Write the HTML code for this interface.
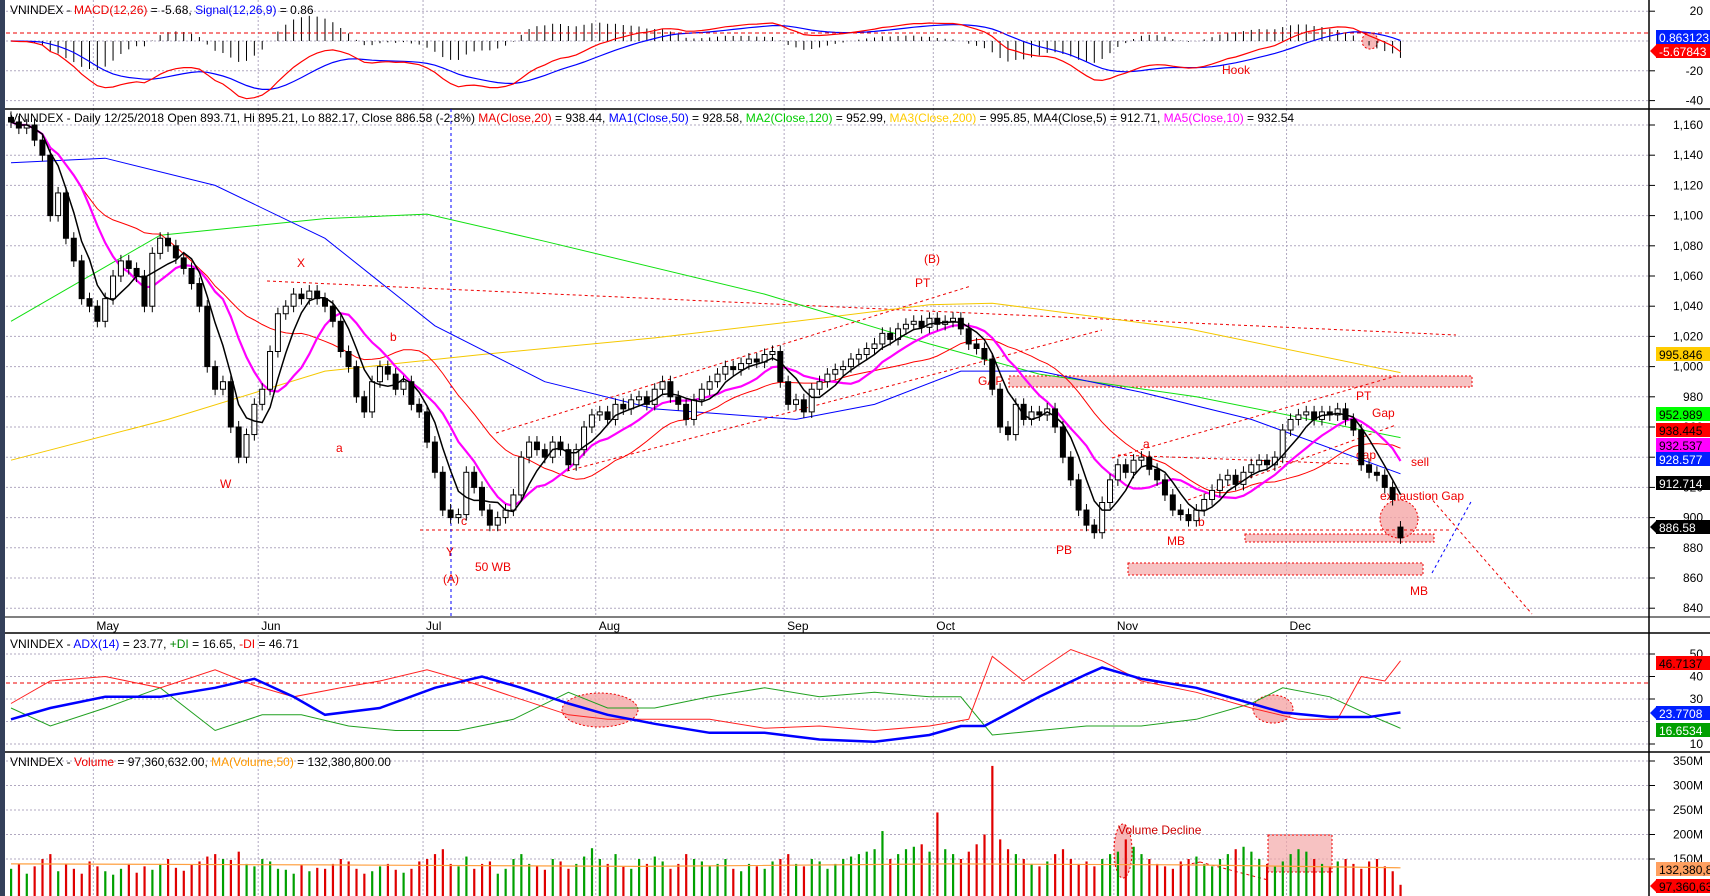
<!DOCTYPE html>
<html><head><meta charset="utf-8"><style>
html,body{margin:0;padding:0;background:#fff;}
svg{display:block;font-family:"Liberation Sans",Arial,sans-serif;}
</style></head><body>
<svg id="c" width="1710" height="896" viewBox="0 0 1710 896" xmlns="http://www.w3.org/2000/svg">
<rect x="0" y="0" width="1710" height="896" fill="#fff"/>
<rect x="0" y="0" width="5" height="896" fill="#34405a"/>
<g id="grid"></g>
<g id="ann"></g>
<g id="marks"></g>
<g id="axis"></g>
<g id="titles">
<text x="10" y="14" font-size="12">VNINDEX - <tspan fill="#e00">MACD(12,26)</tspan> = -5.68, <tspan fill="#00f">Signal(12,26,9)</tspan> = 0.86</text>
<text x="10" y="122" font-size="12">VNINDEX - Daily 12/25/2018 Open 893.71, Hi 895.21, Lo 882.17, Close 886.58 (-2.8%) <tspan fill="#e00">MA(Close,20)</tspan> = 938.44, <tspan fill="#00f">MA1(Close,50)</tspan> = 928.58, <tspan fill="#0c0">MA2(Close,120)</tspan> = 952.99, <tspan fill="#fc0">MA3(Close,200)</tspan> = 995.85, MA4(Close,5) = 912.71, <tspan fill="#f0f">MA5(Close,10)</tspan> = 932.54</text>
<text x="10" y="648" font-size="12">VNINDEX - <tspan fill="#00f">ADX(14)</tspan> = 23.77, <tspan fill="#080">+DI</tspan> = 16.65, <tspan fill="#e00">-DI</tspan> = 46.71</text>
<text x="10" y="766" font-size="12">VNINDEX - <tspan fill="#e00">Volume</tspan> = 97,360,632.00, <tspan fill="#f90">MA(Volume,50)</tspan> = 132,380,800.00</text>
</g>
</svg>
<script>
const closes=[1162,1158,1160,1150,1140,1100,1115,1085,1070,1045,1040,1030,1045,1060,1070,1065,1060,1040,1075,1085,1080,1072,1065,1055,1040,1000,985,990,960,940,955,975,985,1010,1035,1040,1048,1045,1050,1045,1040,1030,1010,1000,980,970,990,1000,995,985,990,975,970,950,930,905,900,902,930,920,905,895,900,905,915,940,950,945,940,950,945,935,945,960,968,970,965,975,972,978,980,975,985,990,980,975,965,978,985,990,995,1000,998,1002,1005,1003,1008,1010,990,975,978,970,985,990,995,998,1000,1005,1008,1012,1015,1022,1018,1025,1028,1030,1026,1032,1028,1030,1032,1025,1015,1012,1005,985,960,955,975,965,970,968,972,960,940,925,905,895,890,910,925,935,930,938,940,932,925,915,905,902,898,905,912,918,925,928,922,930,935,938,935,940,958,965,968,970,965,970,968,972,965,958,935,930,928,920,912,886.58];
const volumes=[130,140,120,135,150,160,125,140,130,120,145,135,125,118,130,140,122,135,128,140,150,132,126,138,145,155,160,150,148,165,140,135,150,145,130,128,120,138,125,132,130,140,150,145,130,120,125,135,140,128,122,130,145,150,160,170,140,135,155,130,140,145,120,130,150,160,140,135,128,150,145,130,140,155,172,150,140,160,135,130,150,140,155,145,130,140,160,150,145,135,140,150,130,125,140,135,130,145,150,160,140,135,150,145,130,140,150,155,160,165,170,207,150,160,170,175,180,165,245,170,160,150,165,180,200,340,190,170,160,150,140,135,145,160,170,150,140,145,135,150,160,165,190,175,160,150,140,135,130,145,150,155,140,135,150,160,170,175,165,150,140,135,145,160,170,165,150,140,135,145,150,140,130,145,150,135,125,97.36];
const ma50Idx=[0,12,26,40,54,68,82,100,110,121,131,144,158,177];
const ma50Val=[1135,1138,1120,1085,1027,990,972,965,975,997,997,983,965,929];
const ma120Idx=[0,19,40,53,68,96,117,131,151,177];
const ma120Val=[1030,1087,1098,1101,1083,1048,1015,995,980,953];
const ma200Idx=[0,20,40,60,82,100,117,125,150,177];
const ma200Val=[938,965,997,1008,1019,1030,1041,1042,1025,996];
const adxIdx=[0,5,12,19,26,31,36,40,47,54,60,65,71,76,82,89,96,103,110,117,121,124,131,137,139,144,151,158,162,168,173,177];
const adxVal=[21,26,31,31,35,39,31,23,26,35,40,35,28,23,19,15,15,12,11,14,18,18,31,41,44,39,35,28,24,22,22,24];
const pdiIdx=[0,5,12,19,26,32,37,43,49,57,64,71,76,82,89,96,103,110,117,121,125,131,137,144,151,158,162,168,173,177];
const pdiVal=[26,18,26,35,16,23,23,18,16,16,21,33,26,26,31,35,31,33,31,31,14,16,18,18,21,28,35,31,23,17];
const mdiIdx=[0,5,12,19,26,31,36,42,47,53,58,64,71,76,82,89,96,103,110,117,122,125,129,135,139,144,151,158,164,169,172,175,177];
const mdiVal=[28,38,40,35,43,36,31,35,38,43,38,31,23,21,21,21,17,18,16,18,21,49,38,52,47,38,33,26,21,21,40,38,47];
const volMaIdx=[0,40,80,120,150,177];
const volMaVal=[140,138,135,140,138,132];
const months=["May","Jun","Jul","Aug","Sep","Oct","Nov","Dec"];
const monthIdx=[11,32,53,75,99,118,141,163];
const priceTicks=[1160,1140,1120,1100,1080,1060,1040,1020,1000,980,960,940,920,900,880,860,840];
const macdTicks=[20,-20,-40];
const adxTicks=[50,40,30,20,10];
const volTicks=[350,300,250,200,150];

const NS="http://www.w3.org/2000/svg";
const xOf=i=>11+i*7.85;
const pY=p=>125+(1160-p)*1.51;
const mY=v=>41-v*1.49;
const aY=v=>744-(v-10)*2.25;
const vY=v=>Math.min(896,859-(v-150)*0.49);
function el(tag,attrs,parent){const e=document.createElementNS(NS,tag);for(const k in attrs)e.setAttribute(k,attrs[k]);parent.appendChild(e);return e;}
const G=document.getElementById('grid'),M=document.getElementById('marks'),A=document.getElementById('axis'),N=document.getElementById('ann');

function hgrid(y,x2){const l=el('line',{x1:6,x2:x2||1649,y1:y,y2:y,stroke:'#b0a8c0','stroke-dasharray':'2,2','stroke-width':1},G);}
priceTicks.forEach(t=>hgrid(pY(t)));
macdTicks.concat([0]).forEach(t=>hgrid(mY(t)));
adxTicks.forEach(t=>hgrid(aY(t)));
volTicks.forEach(t=>hgrid(vY(t)));
monthIdx.forEach((mi,k)=>{
  const x=xOf(mi)-4;
  [[0,109],[109,617],[635,752],[753,896]].forEach(r=>{const l=el('line',{x1:x,x2:x,y1:r[0],y2:r[1],stroke:'#b0a8c0','stroke-dasharray':'2,2'},G);});
  const t=el('text',{x:x+3,y:630,'font-size':12},G);t.textContent=months[k];
  
});
[[109,1.5],[617,1],[633,1.5],[752,1.5]].forEach(s=>{const l=el('line',{x1:5,x2:1710,y1:s[0],y2:s[0],stroke:'#000','stroke-width':s[1]},G);});

function sma(n){return closes.map((c,i)=>{const s=Math.max(0,i-n+1);let t=0;for(let j=s;j<=i;j++)t+=closes[j];return t/(i-s+1);});}
function poly(vals,yf,color,w,name,idx){
  const pts=vals.map((v,k)=>xOf(idx?idx[k]:k).toFixed(1)+','+yf(v).toFixed(1)).join(' ');
  const p=el('polyline',{points:pts,fill:'none',stroke:color,'stroke-width':w},M);
  return p;
}
poly(ma200Val,pY,'#f5c800',1,'ma200-line',ma200Idx);
poly(ma120Val,pY,'#10e010',1,'ma120-line',ma120Idx);
poly(ma50Val,pY,'#0000ff',1,'ma50-line',ma50Idx);
poly(sma(20),pY,'#ff0000',1,'ma20-line');
poly(sma(10),pY,'#ff00ff',2.2,'ma10-line');
closes.forEach((c,i)=>{
  const o=i===closes.length-1?893.71:(i?closes[i-1]:c+3);
  const hi=Math.max(o,c)+4,lo=Math.min(o,c)-4,x=xOf(i);
  const w=el('line',{x1:x,x2:x,y1:pY(hi),y2:pY(lo),stroke:'#000'},M);
  
  const y1=pY(Math.max(o,c)),h=Math.max(1,pY(Math.min(o,c))-y1);
  const b=el('rect',{x:x-2.5,y:y1,width:5,height:h,fill:c>=o?'#fff':'#000',stroke:'#000','stroke-width':1},M);
  
});
poly(sma(5),pY,'#000',1.5,'ma5-line');

function ema(arr,n){const k=2/(n+1);let e=arr[0];return arr.map(v=>e=v*k+e*(1-k));}
const e12=ema(closes,12),e26=ema(closes,26);
const macd=e12.map((v,i)=>v-e26[i]);
const sig=ema(macd,9);
macd.forEach((v,i)=>{const h=(v-sig[i])*1.5;const l=el('line',{x1:xOf(i),x2:xOf(i),y1:mY(0),y2:mY(h),stroke:'#000'},M);});
poly(sig,mY,'#0000ff',1.2,'signal-line');
poly(macd,mY,'#ff0000',1.2,'macd-line');
{const l=el('line',{x1:6,x2:1649,y1:33,y2:33,stroke:'#e00','stroke-dasharray':'4,3'},M);}

{const l=el('line',{x1:6,x2:1649,y1:683,y2:683,stroke:'#e00','stroke-dasharray':'4,3'},M);}
poly(pdiVal,aY,'#20a020',1,'plus-di-line',pdiIdx);
poly(mdiVal,aY,'#ff2020',1,'minus-di-line',mdiIdx);
poly(adxVal,aY,'#0000ff',2.5,'adx-line',adxIdx);

volumes.forEach((v,i)=>{const up=i===0||closes[i]>=closes[i-1];const x=xOf(i);
  const r=el('rect',{x:x-1,y:vY(v),width:2.2,height:896-vY(v),fill:up?'#00a000':'#e00000'},M);
  });
poly(volMaVal,vY,'#ffa040',1.2,'volume-ma-line',volMaIdx);

{const l=el('line',{x1:1649,x2:1649,y1:0,y2:896,stroke:'#000','stroke-width':1.5},A);}
function tick(y,label){const l=el('line',{x1:1649,x2:1655,y1:y,y2:y,stroke:'#000'},A);
  const t=el('text',{x:1703,y:y+4,'font-size':12,'text-anchor':'end'},A);t.textContent=label;}
priceTicks.forEach(t=>tick(pY(t),t.toLocaleString('en-US')));
macdTicks.forEach(t=>tick(mY(t),String(t)));
adxTicks.slice(0,1).concat([40,30,10]).forEach(t=>tick(aY(t),String(t)));
volTicks.forEach(t=>tick(vY(t),t+'M'));
function badge(y,txt,bg,fg,arrow){
  const g=el('g',{},A);
  if(arrow)el('polygon',{points:`1650,${y} 1657,${y-7} 1657,${y+7}`,fill:bg},g);
  el('rect',{x:1656,y:y-7,width:54,height:14,fill:bg},g);
  const t=el('text',{x:1659,y:y+5,'font-size':12,fill:fg},g);t.textContent=txt;
}
badge(37,'0.863123','#0020ff','#fff');badge(51,'-5.67843','#ff0000','#fff',true);
badge(354,'995.846','#ffcc00','#000');badge(414,'952.989','#00ff00','#000');badge(430,'938.445','#ff0000','#000');
badge(445,'932.537','#ff00ff','#000');badge(459,'928.577','#0020ff','#fff');badge(483,'912.714','#000','#fff');
badge(527,'886.58','#000','#fff',true);
badge(663,'46.7137','#ff0000','#000');badge(713,'23.7708','#0020ff','#fff',true);badge(730,'16.6534','#00a000','#fff');
badge(869,'132,380,8','#ffa060','#000');badge(886,'97,360,63','#ff0000','#000',true);

function dline(x1,y1,x2,y2,c,name){const l=el('line',{x1,y1,x2,y2,stroke:c||'#e00','stroke-dasharray':'3,3'},N);}
function box(x,y,w,h,name){const r=el('rect',{x,y,width:w,height:h,fill:'#f4a8a8','fill-opacity':0.7,stroke:'#e00','stroke-dasharray':'2,2'},N);}
function ell(cx,cy,rx,ry,name){const e=el('ellipse',{cx,cy,rx,ry,fill:'#f4a0a0','fill-opacity':0.75,stroke:'#e00','stroke-dasharray':'2,2'},N);}
box(1009,376,463,11,'resistance-zone');box(1245,534,189,8,'support-zone');box(1128,563,295,12,'target-zone');box(1268,835,64,37,'volume-zone');
ell(600,710,38,17,'adx-cross-highlight');ell(1273,709,20,14,'adx-cross-highlight-2');ell(1399,519,19,19,'gap-highlight');ell(1370,41,8,8,'hook-highlight');ell(1123,851,9,27,'volume-decline-highlight');
dline(420,530,1450,530,null,'support-line');dline(267,281,1456,335,null,'resistance-line');
dline(496,433,971,286,null,'channel-upper');dline(567,471,1102,330,null,'channel-lower');
dline(1112,458,1396,376,null,'nov-channel-upper');dline(1188,500,1396,425,null,'nov-channel-lower');dline(1118,455,1352,464,null,'a-level-line');
dline(451,109,451,617,'#00f','event-line');dline(1429,496,1532,614,null,'projection-line');dline(1432,573,1472,500,'#00f','projection-line-2');
dline(1180,866,1200,862,null,'volume-trend');dline(1200,862,1268,880,null,'volume-trend-2');
[['W',220,488],['X',297,267],['a',336,452],['b',390,341],['Y',446,556],['(A)',443,583],['c',461,525],['50 WB',475,571],['(B)',924,263],['PT',915,287],['GAP',978,385],['a',1143,448],['b',1198,526],['PB',1056,554],['MB',1167,545],['PT',1356,400],['Gap',1372,417],['gap',1356,459],['sell',1411,466],['exhaustion Gap',1380,500],['MB',1410,595],['Hook',1222,74],['Volume Decline',1118,834]].forEach(a=>{
  const t=el('text',{x:a[1],y:a[2],'font-size':12,fill:a[0]==='Volume Decline'?'#c00':'#e00'},N);t.textContent=a[0];
  });
</script>
</body></html>
